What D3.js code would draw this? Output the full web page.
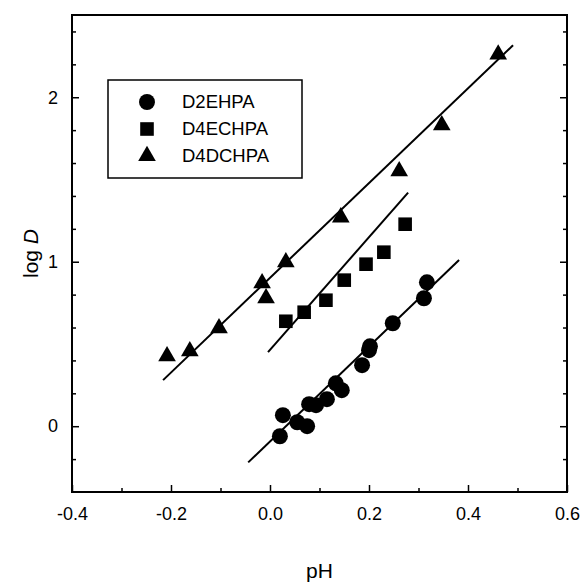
<!DOCTYPE html>
<html><head><meta charset="utf-8">
<script src="https://cdn.jsdelivr.net/npm/d3@7"></script>
<style>body{margin:0;background:#fff}svg{display:block}text{font-family:"Liberation Sans",Arial,sans-serif}</style>
</head><body><svg id="c" width="585" height="586"></svg>
<script>
const seriesNames = ["D2EHPA","D4ECHPA","D4DCHPA"];
const d2ehpaX = [0.020,0.026,0.055,0.075,0.079,0.093,0.115,0.133,0.145,0.186,0.200,0.202,0.248,0.311,0.317];
const d2ehpaY = [-0.061,0.067,0.024,0.000,0.134,0.128,0.164,0.261,0.219,0.371,0.462,0.486,0.626,0.778,0.875];
const d4echpaX = [0.032,0.069,0.113,0.150,0.194,0.230,0.273];
const d4echpaY = [0.638,0.693,0.766,0.888,0.985,1.058,1.228];
const d4dchpaX = [-0.208,-0.162,-0.103,-0.016,-0.008,0.032,0.143,0.261,0.347,0.461];
const d4dchpaY = [0.426,0.456,0.596,0.870,0.778,0.997,1.270,1.550,1.830,2.260];
// fitted lines: [x0, y0, x1, y1]
const fitD2EHPA = [-0.044, -0.22, 0.382, 1.01];
const fitD4ECHPA = [-0.004, 0.45, 0.279, 1.42];
const fitD4DCHPA = [-0.216, 0.28, 0.491, 2.316];
const xTicksMajor = [-0.4,-0.2,0.0,0.2,0.4,0.6];
const xTicksMinor = [-0.3,-0.1,0.1,0.3,0.5];
const yTicksMajor = [0,1,2];
const yTicksMinor = [-0.2,0.2,0.4,0.6,0.8,1.2,1.4,1.6,1.8,2.2,2.4];

const svg = d3.select("#c");
const L=72,R=567,T=15,B=492;
const x = d3.scaleLinear().domain([-0.4,0.6]).range([L,R]);
const y = d3.scaleLinear().domain([-0.4,2.5]).range([B,T]);

const g = svg.append("g");
g.append("g").attr("transform",`translate(0,${B})`).call(d3.axisBottom(x).tickValues(xTicksMajor).tickSize(-7).tickFormat(d=>d.toFixed(1)).tickPadding(15));
g.append("g").attr("transform",`translate(0,${B})`).call(d3.axisBottom(x).tickValues(xTicksMinor).tickSize(-4).tickFormat(""));
g.append("g").attr("transform",`translate(${L},0)`).call(d3.axisLeft(y).tickValues(yTicksMajor).tickSize(-7).tickFormat(d=>String(d)).tickPadding(14));
g.append("g").attr("transform",`translate(${L},0)`).call(d3.axisLeft(y).tickValues(yTicksMinor).tickSize(-4).tickFormat(""));
g.append("g").attr("transform",`translate(${R},0)`).call(d3.axisRight(y).tickValues(yTicksMajor).tickSize(-7).tickFormat(""));
g.append("g").attr("transform",`translate(${R},0)`).call(d3.axisRight(y).tickValues(yTicksMinor).tickSize(-4).tickFormat(""));
g.selectAll(".domain").remove();
g.selectAll("line").attr("stroke","#000").attr("stroke-width",1.5);
g.selectAll("text").attr("font-size",18).attr("fill","#000").attr("font-family","Liberation Sans, Arial, sans-serif");

svg.append("rect").attr("x",L).attr("y",T).attr("width",R-L).attr("height",B-T).attr("fill","none").attr("stroke","#000").attr("stroke-width",2);

[fitD2EHPA,fitD4ECHPA,fitD4DCHPA].forEach(f=>{
  svg.append("line").attr("x1",x(f[0])).attr("y1",y(f[1])).attr("x2",x(f[2])).attr("y2",y(f[3])).attr("stroke","#000").attr("stroke-width",2);
});

const sym = [d3.symbolCircle,d3.symbolSquare,d3.symbolTriangle];
const sizes = [200,185,135];
const data = [[d2ehpaX,d2ehpaY],[d4echpaX,d4echpaY],[d4dchpaX,d4dchpaY]];
data.forEach((s,i)=>{
  svg.append("g").selectAll("path").data(s[0].map((v,k)=>[v,s[1][k]])).join("path")
    .attr("transform",d=>`translate(${x(d[0])},${y(d[1])})`)
    .attr("d",d3.symbol().type(sym[i]).size(sizes[i])).attr("fill","#000");
});

const lg = svg.append("g");
lg.append("rect").attr("x",108).attr("y",80).attr("width",194).attr("height",98).attr("fill","#fff").attr("stroke","#000").attr("stroke-width",1.5);
seriesNames.forEach((n,i)=>{
  const yy = 102 + i*27;
  lg.append("path").attr("transform",`translate(147,${yy})`).attr("d",d3.symbol().type(sym[i]).size(sizes[i])).attr("fill","#000");
  lg.append("text").attr("x",182).attr("y",yy).attr("dy","0.35em").attr("font-size",18.5).text(n);
});

svg.append("text").attr("x",(L+R)/2).attr("y",578).attr("text-anchor","middle").attr("font-size",21).text("pH");
const yt = svg.append("text").attr("transform",`translate(38,${(T+B)/2}) rotate(-90)`).attr("text-anchor","middle").attr("font-size",21);
yt.append("tspan").text("log ");
yt.append("tspan").attr("font-style","italic").text("D");
</script></body></html>
